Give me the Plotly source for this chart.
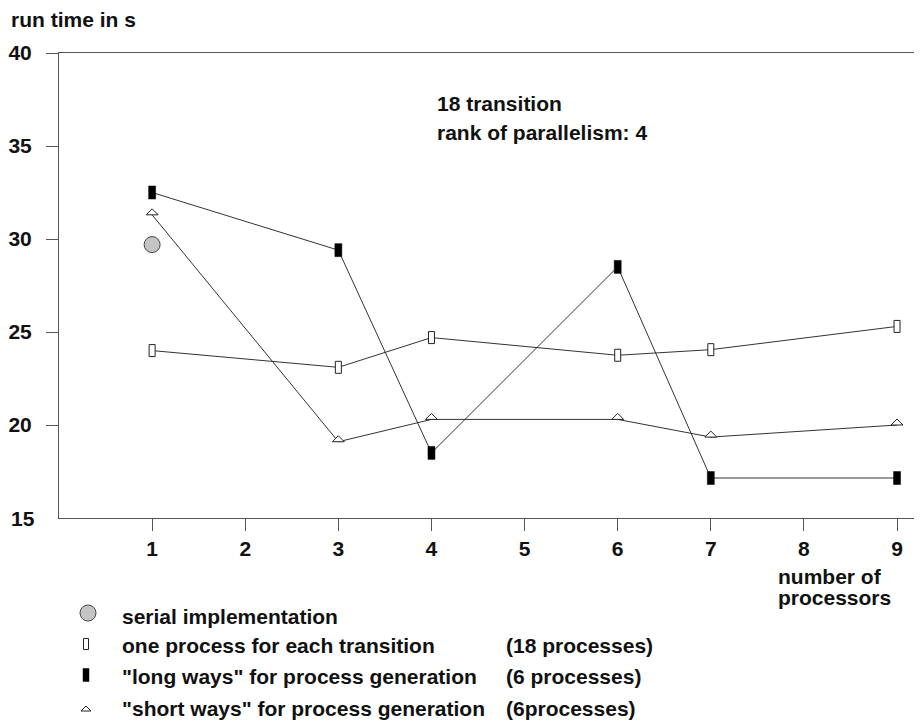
import plotly.graph_objects as go

# ---------------- data ----------------
processors = [1, 3, 4, 6, 7, 9]
one_process = [24.0, 23.1, 24.7, 23.75, 24.05, 25.3]      # one process for each transition
long_ways = [32.5, 29.4, 18.5, 28.5, 17.15, 17.15]        # "long ways"
short_ways = [31.3, 19.1, 20.3, 20.3, 19.35, 20.0]        # "short ways"
serial_x = [1]
serial_y = [29.7]

x_ticks = [1, 2, 3, 4, 5, 6, 7, 8, 9]
y_ticks = [20, 25, 30, 35, 40]
y_bottom = 15

legend_labels = ["serial implementation",
                 "one process for each transition",
                 "\"long ways\" for process generation",
                 "\"short ways\" for process generation"]
legend_counts = ["", "(18 processes)", "(6 processes)", "(6processes)"]

# ---------------- geometry helpers (page pixels; page body has 8px margin) ----------------
BODY = 8
W, H = 922 - BODY, 723 - BODY
PX0, PX1, PY0, PY1 = 59, 922, 53, 518
TXT_DX = -3   # annotation box padding compensation


def px(x):
    return (x - PX0) / (PX1 - PX0)


def py(y):
    return (PY1 - y) / (PY1 - PY0)


FONT = "Liberation Sans, Arial, sans-serif"
FS = 21
TXT = "#111111"
LINE = "#333333"
AX = "#555555"

fig = go.Figure()

for ys in (one_process, long_ways, short_ways):
    fig.add_trace(go.Scatter(x=processors, y=ys, mode="lines",
                             line=dict(color=LINE, width=1),
                             hoverinfo="skip", showlegend=False))

fig.add_trace(go.Scatter(x=serial_x, y=serial_y, mode="markers",
                         marker=dict(size=16, color="#c4c4c4",
                                     line=dict(color="#444444", width=1)),
                         showlegend=False, cliponaxis=False))

shapes = []
# hollow tall rectangles
for x, y in zip(processors, one_process):
    shapes.append(dict(type="rect", xref="x", yref="y", xsizemode="pixel", ysizemode="pixel",
                       xanchor=x, yanchor=y, x0=-3, x1=3, y0=-6, y1=6,
                       line=dict(color="#222222", width=1), fillcolor="white"))
# filled tall rectangles
for x, y in zip(processors, long_ways):
    shapes.append(dict(type="rect", xref="x", yref="y", xsizemode="pixel", ysizemode="pixel",
                       xanchor=x, yanchor=y, x0=-3.5, x1=3.5, y0=-6.5, y1=6.5,
                       line=dict(color="black", width=0.5), fillcolor="black"))
# hollow triangles sitting on the point
for x, y in zip(processors, short_ways):
    shapes.append(dict(type="path", xref="x", yref="y", xsizemode="pixel", ysizemode="pixel",
                       xanchor=x, yanchor=y, path="M -6 0 L 6 0 L 0 6 Z",
                       line=dict(color="#222222", width=1), fillcolor="white"))

# legend symbols
leg_y = [616, 645, 677, 708]
leg_sym_x = 86
shapes.append(dict(type="circle", xref="paper", yref="paper", xsizemode="pixel", ysizemode="pixel",
                   xanchor=px(88), yanchor=py(leg_y[0] - 3), x0=-8, x1=8, y0=-8, y1=8,
                   line=dict(color="#444444", width=1), fillcolor="#c4c4c4"))
shapes.append(dict(type="rect", xref="paper", yref="paper", xsizemode="pixel", ysizemode="pixel",
                   xanchor=px(leg_sym_x), yanchor=py(leg_y[1] - 1), x0=-2.5, x1=2.5, y0=-5.5, y1=5.5,
                   line=dict(color="#222222", width=1), fillcolor="white"))
shapes.append(dict(type="rect", xref="paper", yref="paper", xsizemode="pixel", ysizemode="pixel",
                   xanchor=px(leg_sym_x), yanchor=py(leg_y[2] - 2), x0=-3, x1=3, y0=-6.5, y1=6.5,
                   line=dict(color="black", width=0.5), fillcolor="black"))
shapes.append(dict(type="path", xref="paper", yref="paper", xsizemode="pixel", ysizemode="pixel",
                   xanchor=px(leg_sym_x), yanchor=py(leg_y[3] + 3), path="M -5 0 L 5 0 L 0 5 Z",
                   line=dict(color="#222222", width=1), fillcolor="white"))

annotations = []


def text(s, x, y, anchor="left"):
    annotations.append(dict(text=s, xref="paper", yref="paper", x=px(x + TXT_DX), y=py(y),
                            xanchor=anchor, yanchor="middle", showarrow=False,
                            font=dict(family=FONT, size=FS, color=TXT, weight="bold")))


text("run time in s", 12, 19)
text("18 transition", 438, 104)
text("rank of parallelism: 4", 438, 132)
text("number of", 779, 576)
text("processors", 779, 597)
for lab, cnt, y in zip(legend_labels, legend_counts, leg_y):
    text(lab, 123, y)
    if cnt:
        text(cnt, 507, y)

# bottom y label (no tick drawn there in the original)
annotations.append(dict(text=str(y_bottom), xref="paper", yref="y", x=0, y=y_bottom,
                        xanchor="right", yanchor="middle", xshift=-22, showarrow=False,
                        font=dict(family=FONT, size=FS, color=TXT, weight="bold")))

fig.update_layout(
    width=W, height=H, autosize=False,
    margin=dict(l=PX0 - BODY, r=922 - PX1, t=PY0 - BODY, b=723 - PY1, pad=0),
    paper_bgcolor="white", plot_bgcolor="white",
    font=dict(family=FONT, size=FS, color=TXT, weight="bold"),
    showlegend=False,
    shapes=shapes, annotations=annotations,
    xaxis=dict(range=[0, 9.268], tickvals=x_ticks, ticks="outside", ticklen=12,
               tickcolor=AX, tickwidth=1, showline=True, linecolor=AX, linewidth=1,
               mirror=True, showgrid=False, zeroline=False, ticklabelstandoff=0,
               tickfont=dict(family=FONT, size=FS, color=TXT, weight="bold")),
    yaxis=dict(range=[15, 40], tickvals=y_ticks, ticks="outside", ticklen=12,
               tickcolor=AX, tickwidth=1, showline=True, linecolor=AX, linewidth=1,
               showgrid=False, zeroline=False, ticklabelstandoff=10,
               tickfont=dict(family=FONT, size=FS, color=TXT, weight="bold")),
)

fig.write_html("out.html")
